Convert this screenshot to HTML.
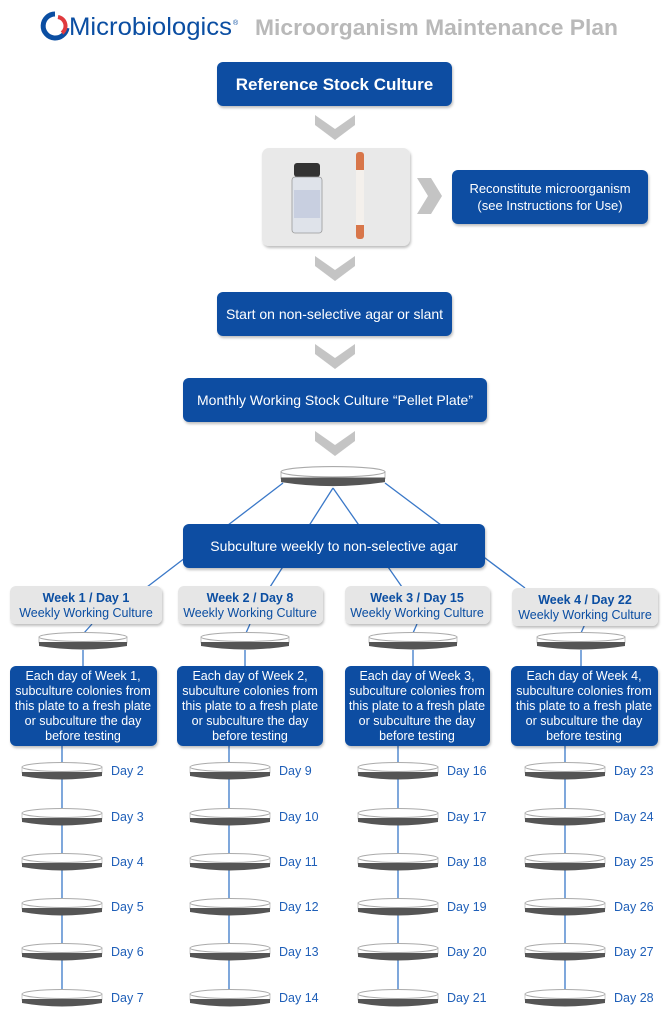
<!DOCTYPE html>
<html><head><meta charset="utf-8"><style>
html,body{margin:0;padding:0;background:#fff}
svg{display:block}
text{font-family:"Liberation Sans",Arial,sans-serif}
</style></head><body>
<svg width="668" height="1024" viewBox="0 0 668 1024" xmlns="http://www.w3.org/2000/svg">
<defs>
<g id="p">
<rect x="0" y="5" width="100" height="6" fill="#fff" stroke="#aaa" stroke-width="0.8"/>
<path d="M0 10 L100 10 L100 14 Q50 21 0 14 Z" fill="#555"/>
<ellipse cx="50" cy="5" rx="50" ry="4.5" fill="#fff" stroke="#aaa" stroke-width="1"/>
</g>
<filter id="sh" x="-5%" y="-5%" width="110%" height="120%"><feDropShadow dx="1" dy="2" stdDeviation="1.2" flood-color="#000" flood-opacity="0.25"/></filter>
</defs>

<!-- header -->
<path d="M55 14 A12 12 0 1 0 67 28" fill="none" stroke="#0b4ea2" stroke-width="5"/>
<path d="M58 17 A9 9 0 0 1 62 33" fill="none" stroke="#e03a3e" stroke-width="4"/>
<text x="69" y="35" font-size="25" fill="#0b4ea2" textLength="163" lengthAdjust="spacingAndGlyphs">Microbiologics</text>
<text x="233" y="25" font-size="7" fill="#0b4ea2">®</text>
<text x="255" y="35" font-size="22" font-weight="bold" fill="#b9b9b9" textLength="363" lengthAdjust="spacingAndGlyphs">Microorganism Maintenance Plan</text>

<g fill="#c4c4c4">
<path d="M315 115 L335 129 L355 115 L355 125 L335 140 L315 125Z"/>
<path d="M315 256 L335 270 L355 256 L355 266 L335 281 L315 266Z"/>
<path d="M315 344 L335 358 L355 344 L355 354 L335 369 L315 354Z"/>
<path d="M315 431 L335 445 L355 431 L355 441 L335 456 L315 441Z"/>
<path d="M417 178 L431 178 L442 196 L431 214 L417 214 L428 196Z"/>
</g>

<g filter="url(#sh)">
<rect x="217" y="62" width="235" height="44" rx="6" fill="#0b4ea2"/>
<rect x="262" y="148" width="148" height="98" rx="7" fill="#e9e9e9"/>
<rect x="452" y="170" width="196" height="54" rx="6" fill="#0b4ea2"/>
<rect x="217" y="292" width="235" height="44" rx="6" fill="#0b4ea2"/>
<rect x="183" y="378" width="304" height="44" rx="6" fill="#0b4ea2"/>
</g>
<text x="334.5" y="90" font-size="17" font-weight="bold" fill="#fff" text-anchor="middle">Reference Stock Culture</text>
<text x="550" y="193" font-size="13" fill="#fff" text-anchor="middle">Reconstitute microorganism</text>
<text x="550" y="210" font-size="13" fill="#fff" text-anchor="middle">(see Instructions for Use)</text>
<text x="334.5" y="319" font-size="14" fill="#fff" text-anchor="middle">Start on non-selective agar or slant</text>
<text x="335" y="405" font-size="14" fill="#fff" text-anchor="middle">Monthly Working Stock Culture “Pellet Plate”</text>

<!-- vial & tube -->
<rect x="294" y="163" width="26" height="14" rx="3" fill="#333"/>
<rect x="292" y="177" width="30" height="56" rx="3" fill="#dfe3ea" stroke="#999" stroke-width="0.8"/>
<rect x="294" y="190" width="26" height="28" fill="#c8cfe0"/>
<rect x="356" y="152" width="8" height="87" rx="3" fill="#d8764a"/>
<rect x="356" y="170" width="8" height="55" fill="#f4f0ec"/>

<!-- big plate connectors -->
<g stroke="#3a78c8" stroke-width="1.3">
<line x1="283" y1="483" x2="147" y2="587"/>
<line x1="333" y1="488" x2="270" y2="587"/>
<line x1="333" y1="488" x2="402" y2="587"/>
<line x1="385" y1="483" x2="525" y2="588"/>
</g>
<use href="#p" transform="translate(281,466) scale(1.04,1.15)"/>

<rect x="183" y="524" width="302" height="44" rx="6" fill="#0b4ea2" filter="url(#sh)"/>
<text x="334" y="551" font-size="14" fill="#fff" text-anchor="middle">Subculture weekly to non-selective agar</text>

<!-- columns -->
<g stroke="#3a78c8" stroke-width="1.3">
<line x1="92" y1="624" x2="84" y2="633"/>
<line x1="250" y1="624" x2="246" y2="633"/>
<line x1="417" y1="624" x2="413" y2="633"/>
<line x1="585" y1="624" x2="581" y2="633"/>
<line x1="83" y1="650" x2="83" y2="666"/>
<line x1="245" y1="650" x2="245" y2="666"/>
<line x1="413" y1="650" x2="413" y2="666"/>
<line x1="581" y1="650" x2="581" y2="666"/>
<line x1="62" y1="746" x2="62" y2="995"/>
<line x1="229" y1="746" x2="229" y2="995"/>
<line x1="398" y1="746" x2="398" y2="995"/>
<line x1="565" y1="746" x2="565" y2="995"/>
</g>

<g filter="url(#sh)">
<rect x="10" y="586" width="152" height="38" rx="6" fill="#e6e6e6"/>
<rect x="178" y="586" width="145" height="38" rx="6" fill="#e6e6e6"/>
<rect x="345" y="586" width="145" height="38" rx="6" fill="#e6e6e6"/>
<rect x="512" y="588" width="146" height="38" rx="6" fill="#e6e6e6"/>
<rect x="10" y="666" width="147" height="80" rx="6" fill="#0b4ea2"/>
<rect x="177" y="666" width="146" height="80" rx="6" fill="#0b4ea2"/>
<rect x="345" y="666" width="145" height="80" rx="6" fill="#0b4ea2"/>
<rect x="511" y="666" width="147" height="80" rx="6" fill="#0b4ea2"/>
</g>
<g font-size="12.5" fill="#0b4ea2" text-anchor="middle">
<text x="86" y="602" font-weight="bold">Week 1 / Day 1</text><text x="86" y="617">Weekly Working Culture</text>
<text x="250" y="602" font-weight="bold">Week 2 / Day 8</text><text x="250" y="617">Weekly Working Culture</text>
<text x="417" y="602" font-weight="bold">Week 3 / Day 15</text><text x="417" y="617">Weekly Working Culture</text>
<text x="585" y="604" font-weight="bold">Week 4 / Day 22</text><text x="585" y="619">Weekly Working Culture</text>
</g>
<g font-size="12.5" fill="#fff" text-anchor="middle">
<text x="83" y="680">Each day of Week 1,</text><text x="83" y="695">subculture colonies from</text><text x="83" y="710">this plate to a fresh plate</text><text x="83" y="725">or subculture the day</text><text x="83" y="740">before testing</text>
<text x="250" y="680">Each day of Week 2,</text><text x="250" y="695">subculture colonies from</text><text x="250" y="710">this plate to a fresh plate</text><text x="250" y="725">or subculture the day</text><text x="250" y="740">before testing</text>
<text x="417" y="680">Each day of Week 3,</text><text x="417" y="695">subculture colonies from</text><text x="417" y="710">this plate to a fresh plate</text><text x="417" y="725">or subculture the day</text><text x="417" y="740">before testing</text>
<text x="584" y="680">Each day of Week 4,</text><text x="584" y="695">subculture colonies from</text><text x="584" y="710">this plate to a fresh plate</text><text x="584" y="725">or subculture the day</text><text x="584" y="740">before testing</text>
</g>

<!-- small week plates -->
<use href="#p" transform="translate(39,632) scale(0.88,1)"/>
<use href="#p" transform="translate(201,632) scale(0.88,1)"/>
<use href="#p" transform="translate(369,632) scale(0.88,1)"/>
<use href="#p" transform="translate(537,632) scale(0.88,1)"/>

<!-- day plates -->
<g id="col1">
<use href="#p" transform="translate(22,762) scale(0.8,1)"/>
<use href="#p" transform="translate(22,808) scale(0.8,1)"/>
<use href="#p" transform="translate(22,853) scale(0.8,1)"/>
<use href="#p" transform="translate(22,898) scale(0.8,1)"/>
<use href="#p" transform="translate(22,943) scale(0.8,1)"/>
<use href="#p" transform="translate(22,989) scale(0.8,1)"/>
</g>
<use href="#col1" transform="translate(168,0)"/>
<use href="#col1" transform="translate(336,0)"/>
<use href="#col1" transform="translate(503,0)"/>

<g font-size="12.5" fill="#1f5fb8">
<text x="111" y="775">Day 2</text><text x="111" y="821">Day 3</text><text x="111" y="866">Day 4</text><text x="111" y="911">Day 5</text><text x="111" y="956">Day 6</text><text x="111" y="1002">Day 7</text>
<text x="279" y="775">Day 9</text><text x="279" y="821">Day 10</text><text x="279" y="866">Day 11</text><text x="279" y="911">Day 12</text><text x="279" y="956">Day 13</text><text x="279" y="1002">Day 14</text>
<text x="447" y="775">Day 16</text><text x="447" y="821">Day 17</text><text x="447" y="866">Day 18</text><text x="447" y="911">Day 19</text><text x="447" y="956">Day 20</text><text x="447" y="1002">Day 21</text>
<text x="614" y="775">Day 23</text><text x="614" y="821">Day 24</text><text x="614" y="866">Day 25</text><text x="614" y="911">Day 26</text><text x="614" y="956">Day 27</text><text x="614" y="1002">Day 28</text>
</g>
</svg>
</body></html>
